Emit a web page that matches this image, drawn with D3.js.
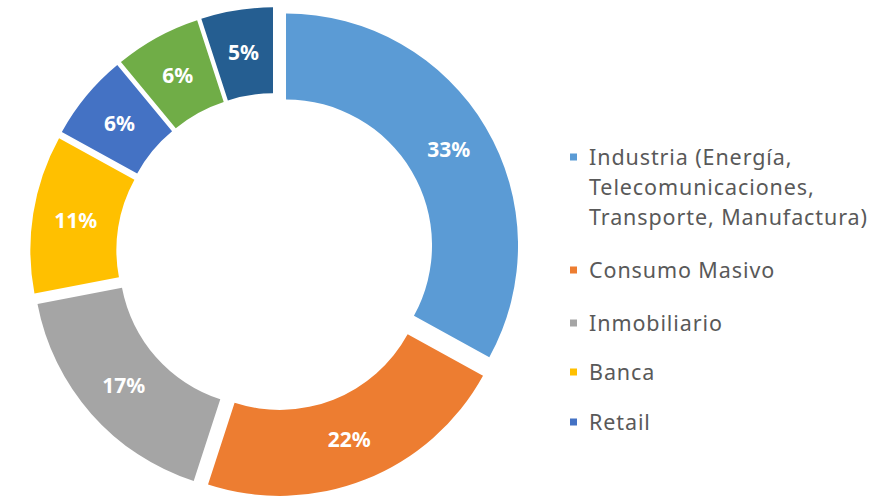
<!DOCTYPE html>
<html>
<head>
<meta charset="utf-8">
<script src="https://cdn.jsdelivr.net/npm/d3@7"></script>
<style>
  html, body { margin: 0; padding: 0; background: #ffffff; }
  svg { display: block; }
</style>
</head>
<body>
<div id="chart"></div>
<script>
// ---- data ----
const sliceNames = ["Industria", "Consumo Masivo", "Inmobiliario", "Banca", "Retail", "Otro 1", "Otro 2"];
const sliceValues = [33, 22, 17, 11, 6, 6, 5];
const sliceColors = ["#5B9BD5", "#ED7D31", "#A5A5A5", "#FFC000", "#4472C4", "#70AD47", "#255E91"];
const legendLabels = [
  ["Industria (Energía,", "Telecomunicaciones,", "Transporte, Manufactura)"],
  ["Consumo Masivo"],
  ["Inmobiliario"],
  ["Banca"],
  ["Retail"]
];
const legendColors = ["#5B9BD5", "#ED7D31", "#A5A5A5", "#FFC000", "#4472C4"];

// ---- layout ----
const W = 887, H = 497;
const cx = 275, cy = 252;
const outerR = 232, innerR = 146, explode = 12.8;

const svg = d3.select("#chart").append("svg")
  .attr("width", W).attr("height", H);

const pie = d3.pie().sort(null).value(d => d.v);
const arcs = pie(sliceValues.map((v, i) => ({ v, i })));
const arc = d3.arc().innerRadius(innerR).outerRadius(outerR);

const g = svg.append("g").attr("transform", `translate(${cx},${cy})`);

const slices = g.selectAll("g.slice").data(arcs).enter().append("g")
  .attr("class", "slice")
  .attr("transform", d => {
    const m = (d.startAngle + d.endAngle) / 2;
    return `translate(${explode * Math.sin(m)},${-explode * Math.cos(m)})`;
  });

slices.append("path")
  .attr("d", arc)
  .attr("fill", d => sliceColors[d.data.i]);

slices.append("text")
  .attr("transform", d => `translate(${arc.centroid(d)})`)
  .attr("text-anchor", "middle")
  .attr("dy", "0.36em")
  .attr("fill", "#ffffff")
  .attr("font-family", "'Noto Sans', 'DejaVu Sans', sans-serif")
  .attr("font-weight", "bold")
  .attr("font-size", 21)
  .text(d => d.data.v + "%");

// ---- legend ----
const legendX = 570, textX = 589;
const rowY = [157, 270, 323, 372, 422];
const lineH = 30;
const leg = svg.append("g");
legendLabels.forEach((lines, i) => {
  leg.append("rect")
    .attr("x", legendX).attr("y", rowY[i] - 3.5)
    .attr("width", 7).attr("height", 7)
    .attr("fill", legendColors[i]);
  const t = leg.append("text")
    .attr("class", "legtext")
    .attr("x", textX).attr("y", rowY[i])
    .attr("dy", "0.35em")
    .attr("fill", "#595959")
    .attr("font-family", "'Noto Sans', 'DejaVu Sans', sans-serif")
    .attr("font-size", 21.5)
    .attr("letter-spacing", 0.9);
  lines.forEach((ln, j) => {
    t.append("tspan").attr("x", textX).attr("y", rowY[i] + j * lineH).attr("dy", "0.35em").text(ln);
  });
});
</script>
</body>
</html>
